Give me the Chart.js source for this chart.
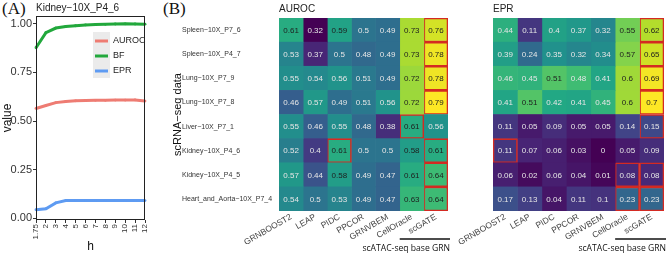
<!DOCTYPE html>
<html>
<head>
<meta charset="utf-8">
<script src="https://cdn.jsdelivr.net/npm/chart.js@4.4.1/dist/chart.umd.min.js"></script>
<style>
  body { margin: 0; background: #fff; width: 666px; height: 254px; position: relative; overflow: hidden; }
  canvas { position: absolute; top: 0; }
  .tag { position: absolute; top: -1px; font-family: "Liberation Serif", serif; font-size: 17px; color: #111; }
</style>
</head>
<body>
<div class="tag" style="left:2px">(A)</div>
<div class="tag" style="left:163px">(B)</div>
<canvas id="lineChart" width="160" height="254" style="left:0"></canvas>
<canvas id="aurocChart" width="284" height="254" style="left:168px"></canvas>
<canvas id="eprChart" width="211" height="254" style="left:455px"></canvas>
<script>
// panel A: metrics vs h for Kidney-10X_P4_6
const hValues = ['1.75', '2', '3', '4', '5', '6', '7', '8', '9', '10', '11', '12'];
const aurocLine = [0.565, 0.58, 0.595, 0.601, 0.604, 0.606, 0.607, 0.607, 0.608, 0.608, 0.609, 0.603];
const bfLine = [0.877, 0.954, 0.978, 0.986, 0.99, 0.994, 0.996, 0.997, 0.999, 1.0, 0.999, 0.998];
const eprLine = [0.045, 0.05, 0.08, 0.092, 0.092, 0.092, 0.092, 0.092, 0.092, 0.092, 0.092, 0.092];

// panel B: heatmaps
const scData = ['Spleen−10X_P7_6', 'Spleen−10X_P4_7', 'Lung−10X_P7_9', 'Lung−10X_P7_8',
  'Liver−10X_P7_1', 'Kidney−10X_P4_6', 'Kidney−10X_P4_5', 'Heart_and_Aorta−10X_P7_4'];
const methods = ['GRNBOOST2', 'LEAP', 'PIDC', 'PPCOR', 'GRNVBEM', 'CellOracle', 'scGATE'];

const aurocValues = [
  [0.61, 0.32, 0.59, 0.5, 0.49, 0.73, 0.76],
  [0.53, 0.37, 0.5, 0.48, 0.49, 0.73, 0.78],
  [0.55, 0.54, 0.56, 0.51, 0.49, 0.72, 0.78],
  [0.46, 0.57, 0.49, 0.51, 0.56, 0.72, 0.79],
  [0.55, 0.46, 0.55, 0.48, 0.38, 0.61, 0.56],
  [0.52, 0.4, 0.61, 0.5, 0.5, 0.58, 0.61],
  [0.57, 0.44, 0.58, 0.49, 0.47, 0.61, 0.64],
  [0.54, 0.5, 0.53, 0.49, 0.47, 0.63, 0.64]
];
const eprValues = [
  [0.44, 0.11, 0.4, 0.37, 0.32, 0.55, 0.62],
  [0.39, 0.24, 0.35, 0.32, 0.34, 0.57, 0.65],
  [0.46, 0.45, 0.51, 0.48, 0.41, 0.6, 0.69],
  [0.41, 0.51, 0.42, 0.41, 0.45, 0.6, 0.7],
  [0.11, 0.05, 0.09, 0.05, 0.05, 0.14, 0.15],
  [0.11, 0.07, 0.06, 0.03, 0, 0.05, 0.09],
  [0.06, 0.02, 0.06, 0.04, 0.01, 0.08, 0.08],
  [0.17, 0.13, 0.04, 0.11, 0.1, 0.23, 0.23]
];
// [row, column] of the boxed (best) cells
const aurocBest = [[0, 6], [1, 6], [2, 6], [3, 6], [4, 5], [5, 2], [5, 6], [6, 6], [7, 6]];
const eprBest = [[0, 6], [1, 6], [2, 6], [3, 6], [4, 6], [5, 0], [6, 5], [6, 6], [7, 5], [7, 6]];

const VIRIDIS = ['#440154', '#482475', '#414487', '#355F8D', '#2A788E', '#21918C',
  '#22A884', '#44BF70', '#7AD151', '#BDDF26', '#FDE725'];
function viridis(t) {
  t = Math.max(0, Math.min(1, t));
  const p = t * 10, i = Math.min(9, Math.floor(p)), f = p - i;
  const a = VIRIDIS[i], b = VIRIDIS[i + 1];
  const ch = k => {
    const x = parseInt(a.substr(k, 2), 16), y = parseInt(b.substr(k, 2), 16);
    return Math.round(x + (y - x) * f);
  };
  return 'rgb(' + ch(1) + ',' + ch(3) + ',' + ch(5) + ')';
}

const SANS = '"Liberation Sans", Arial, sans-serif';

const plotBox = {
  id: 'plotBox',
  afterDraw(chart) {
    const { ctx, chartArea: a } = chart;
    ctx.save();
    ctx.strokeStyle = '#222';
    ctx.lineWidth = 1;
    ctx.strokeRect(a.left + 0.5, a.top + 0.5, a.right - a.left - 1, a.bottom - a.top - 1);
    ctx.restore();
  }
};

const insideLegend = {
  id: 'insideLegend',
  afterDraw(chart) {
    const { ctx, chartArea: a } = chart;
    const x0 = a.right - 52, y0 = a.top + 16;
    ctx.save();
    ctx.fillStyle = '#EBEBEB';
    ctx.fillRect(x0, y0, 17, 46);
    chart.data.datasets.forEach((ds, i) => {
      const y = y0 + 9 + i * 15;
      ctx.strokeStyle = ds.borderColor;
      ctx.lineWidth = 3;
      ctx.beginPath();
      ctx.moveTo(x0 + 2, y);
      ctx.lineTo(x0 + 15, y);
      ctx.stroke();
      ctx.fillStyle = '#222';
      ctx.font = '9px ' + SANS;
      ctx.textBaseline = 'middle';
      ctx.fillText(ds.label, x0 + 20, y);
    });
    ctx.restore();
  }
};

new Chart(document.getElementById('lineChart'), {
  type: 'line',
  data: {
    labels: hValues,
    datasets: [
      { label: 'AUROC', data: aurocLine, borderColor: '#EE7C73', backgroundColor: '#EE7C73' },
      { label: 'BF', data: bfLine, borderColor: '#22A83C', backgroundColor: '#22A83C' },
      { label: 'EPR', data: eprLine, borderColor: '#5E9BF2', backgroundColor: '#5E9BF2' }
    ]
  },
  options: {
    responsive: false,
    animation: false,
    layout: { padding: { right: 15 } },
    elements: { line: { borderWidth: 3, tension: 0 }, point: { radius: 1.4, borderWidth: 0 } },
    plugins: {
      legend: { display: false },
      tooltip: { enabled: false },
      title: {
        display: true, text: 'Kidney−10X_P4_6', align: 'start', fullSize: false,
        color: '#222', font: { family: SANS, size: 10, weight: 'normal' }, padding: { top: 2, bottom: 2 }
      }
    },
    scales: {
      x: {
        offset: false,
        afterFit: s => { s.height = 34; },
        grid: { drawOnChartArea: false, tickLength: 3, color: '#333' },
        border: { display: false },
        ticks: { minRotation: 90, maxRotation: 90, autoSkip: false, padding: 1, color: '#333', font: { family: SANS, size: 8 } },
        title: { display: true, text: 'h', color: '#111', font: { family: SANS, size: 12 }, padding: 0 }
      },
      y: {
        min: -0.008, max: 1.04,
        afterFit: s => { s.width = 36; },
        afterBuildTicks: s => { s.ticks = [0, 0.25, 0.5, 0.75, 1].map(v => ({ value: v })); },
        grid: { drawOnChartArea: false, tickLength: 3, color: '#333' },
        border: { display: false },
        ticks: { callback: v => v.toFixed(2), padding: 1, color: '#333', font: { family: SANS, size: 11 } },
        title: { display: true, text: 'value', color: '#111', font: { family: SANS, size: 12 }, padding: 0 }
      }
    }
  },
  plugins: [plotBox, insideLegend]
});

// cell labels and the scATAC-seq bracket under CellOracle / scGATE
function heatText(values, darkFrom) {
  return {
    id: 'heatText',
    afterDatasetsDraw(chart) {
      const ctx = chart.ctx;
      ctx.save();
      ctx.font = '8px ' + SANS;
      ctx.textAlign = 'center';
      ctx.textBaseline = 'middle';
      chart.data.datasets.forEach((ds, c) => {
        chart.getDatasetMeta(c).data.forEach((bar, r) => {
          const v = values[r][c];
          const p = bar.getCenterPoint();
          ctx.fillStyle = v >= darkFrom ? '#1e1e1e' : '#e6e6e6';
          ctx.fillText(String(v), p.x, p.y + 0.5);
        });
      });
      ctx.restore();
    },
    afterDraw(chart) {
      const { ctx, chartArea: a } = chart;
      const xs = chart.scales.x;
      const y = a.bottom + 28;
      ctx.save();
      ctx.strokeStyle = '#111';
      ctx.lineWidth = 1.6;
      ctx.beginPath();
      ctx.moveTo(xs.getPixelForValue(5), y);
      ctx.lineTo(a.right + 2, y);
      ctx.stroke();
      ctx.fillStyle = '#111';
      ctx.font = '8.6px "Open Sans", sans-serif';
      ctx.textAlign = 'right';
      ctx.textBaseline = 'middle';
      ctx.fillText('scATAC-seq base GRN', a.right + 2, y + 10);
      ctx.restore();
    }
  };
}

function makeHeatmap(id, title, values, best, showRows, darkFrom, yWidth, pad) {
  const flat = values.flat();
  const lo = Math.min(...flat), hi = Math.max(...flat);
  const isBest = (r, c) => best.some(b => b[0] === r && b[1] === c);
  const datasets = methods.map((m, c) => ({
    label: m,
    data: scData.map(() => 1),
    backgroundColor: scData.map((s, r) => viridis((values[r][c] - lo) / (hi - lo))),
    borderColor: '#D42A22',
    borderWidth: scData.map((s, r) => isBest(r, c) ? 1.6 : 0),
    borderSkipped: false,
    barPercentage: 1,
    categoryPercentage: 1
  }));
  const scales = {
    x: {
      type: 'linear', stacked: true, min: 0, max: methods.length,
      afterFit: s => { s.height = 43; },
      afterBuildTicks: s => { s.ticks = methods.map((m, i) => ({ value: i + 0.5 })); },
      grid: { display: false, drawTicks: false },
      border: { display: false },
      ticks: {
        callback: v => methods[Math.floor(v)], autoSkip: false,
        minRotation: 30, maxRotation: 30, padding: 1,
        color: '#444', font: { family: SANS, size: 8.5 }
      }
    },
    y: {
      stacked: true,
      afterFit: s => { s.width = yWidth; },
      grid: { display: false, drawTicks: false },
      border: { display: false },
      ticks: { display: showRows, crossAlign: 'far', padding: 4, color: '#333', font: { family: SANS, size: 7 } }
    }
  };
  if (showRows) {
    // outer left axis that only carries the y title
    scales.yTitle = {
      type: 'linear', position: 'left', weight: 1,
      afterFit: s => { s.width = 14; },
      grid: { display: false, drawTicks: false },
      border: { display: false },
      ticks: { display: false },
      title: { display: true, text: 'scRNA−seq data', color: '#111', font: { family: SANS, size: 11 }, padding: { top: 3, bottom: 0 } }
    };
  }
  new Chart(document.getElementById(id), {
    type: 'bar',
    data: { labels: scData, datasets },
    options: {
      indexAxis: 'y',
      responsive: false,
      animation: false,
      layout: { padding: pad },
      plugins: {
        legend: { display: false },
        tooltip: { enabled: false },
        title: {
          display: true, text: title, align: 'start', fullSize: false,
          color: '#222', font: { family: SANS, size: 10, weight: 'normal' }, padding: { top: 3, bottom: 3 }
        }
      },
      scales
    },
    plugins: [heatText(values, darkFrom)]
  });
}

makeHeatmap('aurocChart', 'AUROC', aurocValues, aurocBest, true, 0.58, 97, { right: 4 });
makeHeatmap('eprChart', 'EPR', eprValues, eprBest, false, 0.5, 38, { right: 2 });
</script>
</body>
</html>
